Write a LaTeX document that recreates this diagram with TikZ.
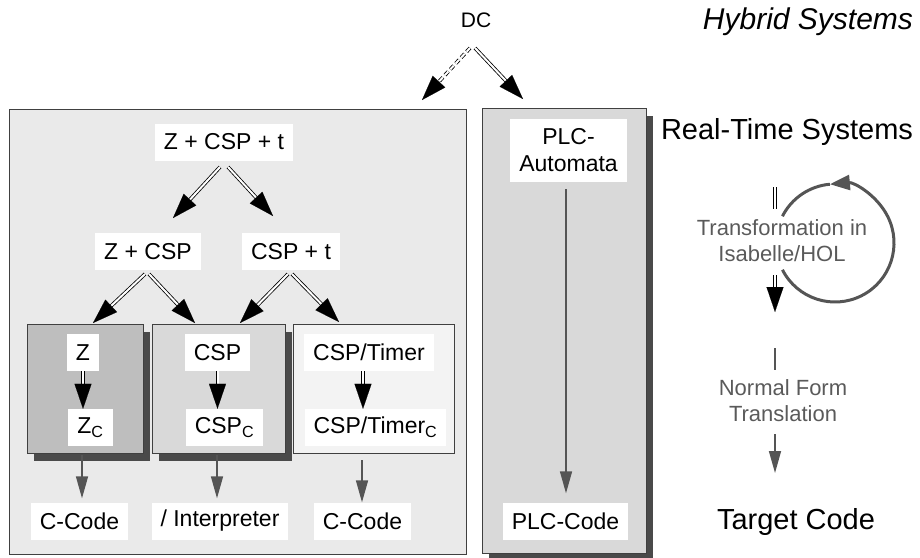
\documentclass[tikz,border=0pt]{standalone}
\usepackage{fontspec}
\setmainfont{Liberation Sans}
\usetikzlibrary{arrows.meta,calc,shadows}

\definecolor{panelgray}{HTML}{EAEAEA}
\definecolor{plcgray}{HTML}{D9D9D9}
\definecolor{zgray}{HTML}{BEBEBE}
\definecolor{cspgray}{HTML}{D9D9D9}
\definecolor{timergray}{HTML}{F3F3F3}
\definecolor{shadowgray}{HTML}{4A4A4A}
\definecolor{linegray}{HTML}{555555}
\definecolor{textgray}{HTML}{5A5A5A}

\tikzset{
  lbl/.style={fill=white, inner xsep=9pt, inner ysep=0pt, minimum height=37pt,
    font=\fontsize{23}{27}\selectfont},
  panel/.style={draw=black!75, line width=0.9pt, inner sep=0pt},
  shade/.style={drop shadow={shadow xshift=7pt, shadow yshift=-8pt, fill=shadowgray, opacity=1}},
  dbl/.style={draw=black, double=white, double distance=2pt, line width=0.8pt},
  grayarrow/.style={draw=linegray, line width=1.6pt, -{Triangle[length=22pt,width=12pt]}},
  loopline/.style={draw=linegray, line width=3pt},
  bigtext/.style={font=\fontsize{29}{34}\selectfont},
  note/.style={text=textgray, align=center, font=\fontsize{22}{26}\selectfont},
}

% double line ending in a solid head
\newcommand{\dblarrow}[3][]{%
  \draw[dbl,#1,shorten >=20pt] (#2) -- (#3);
  \draw[line width=0.1pt, -{Triangle[length=25pt,width=17pt]}] ($(#3)!25pt!(#2)$) -- (#3);
}

\begin{document}
\begin{tikzpicture}[x=1pt, y=-1pt]
  \useasboundingbox (0,0) rectangle (920,557);

  % Headings on the right
  \node[font=\fontsize{21}{24}\selectfont] (dc) at (476,20) {DC};
  \node[font=\fontsize{30}{34}\selectfont\itshape] (hybrid) at (808,22) {Hybrid Systems};
  \node[bigtext] (rts) at (787,132) {Real-Time Systems};
  \node[bigtext] (target) at (796,522) {Target Code};

  % The two panels
  \node[panel, fill=panelgray, minimum width=457pt, minimum height=445pt] (left) at (237.5,331.5) {};
  \node[panel, shade, fill=plcgray, minimum width=164pt, minimum height=445pt] (right) at (564,330.5) {};

  % Arrows from DC
  \coordinate (dcl) at (470,48);
  \coordinate (dcltip) at (422,100);
  \coordinate (dcr) at (475,48);
  \coordinate (dcrtip) at (523,99);
  \dblarrow[dashed, dash pattern=on 5pt off 3pt]{dcl}{dcltip}
  \dblarrow{dcr}{dcrtip}

  % Tree of specification languages
  \node[lbl] (zcspt) at (224,142) {Z + CSP + t};
  \node[lbl] (zcsp) at (148,251.5) {Z + CSP};
  \node[lbl] (cspt) at (291,251.5) {CSP + t};

  \coordinate (a1) at (220,167);
  \coordinate (a1tip) at (173,218);
  \coordinate (a2) at (228,167);
  \coordinate (a2tip) at (273,216);
  \coordinate (b1) at (145,274);
  \coordinate (b1tip) at (93,323);
  \coordinate (b2) at (149,274);
  \coordinate (b2tip) at (195,323);
  \coordinate (c1) at (288,274);
  \coordinate (c1tip) at (240,323);
  \coordinate (c2) at (292,274);
  \coordinate (c2tip) at (339,322);
  \dblarrow{a1}{a1tip}
  \dblarrow{a2}{a2tip}
  \dblarrow{b1}{b1tip}
  \dblarrow{b2}{b2tip}
  \dblarrow{c1}{c1tip}
  \dblarrow{c2}{c2tip}

  % Sub-boxes
  \node[panel, shade, fill=zgray, minimum width=116pt, minimum height=129pt] (zbox) at (85,388.5) {};
  \node[panel, shade, fill=cspgray, minimum width=133pt, minimum height=129pt] (cspbox) at (218.5,388.5) {};
  \node[panel, fill=timergray, minimum width=161pt, minimum height=129pt] (timerbox) at (373.5,388.5) {};

  \node[lbl] (zspec) at (83,352.5) {Z};
  \node[lbl] (zc) at (90.5,427.5) {Z\textsubscript{C}};
  \node[lbl] (csp) at (217.5,352.5) {CSP};
  \node[lbl] (cspc) at (224.5,427.5) {CSP\textsubscript{C}};
  \node[lbl] (timer) at (369,352.5) {CSP/Timer};
  \node[lbl] (timerc) at (375.5,427.5) {CSP/Timer\textsubscript{C}};

  \dblarrow{zspec.south}{zspec.south |- zc.north}
  \dblarrow{csp.south}{csp.south |- cspc.north}
  \dblarrow{363,0 |- timer.south}{363,0 |- timerc.north}

  % Code targets
  \node[lbl, minimum width=87pt] (ccode1) at (79.5,521) {C-Code};
  \node[lbl] (interp) at (220,521) {/ Interpreter};
  \node[lbl, minimum width=91pt] (ccode2) at (362.5,521) {C-Code};

  \draw[grayarrow, shorten >=4pt] (82,455) -- (82,0 |- ccode1.north);
  \draw[grayarrow, shorten >=4pt] (217,455) -- (217,0 |- interp.north);
  \draw[grayarrow, shorten <=7pt] (362,0 |- timerbox.south) -- (362,0 |- ccode2.north);

  % PLC branch
  \node[lbl, align=center, minimum width=115pt, minimum height=63pt] (plcaut) at (568.5,150.5) {PLC-\\Automata};
  \node[lbl, minimum width=123pt] (plccode) at (565.5,521) {PLC-Code};
  \draw[grayarrow, shorten <=7pt, shorten >=9pt] (566,0 |- plcaut.south) -- (566,0 |- plccode.north);

  % Transformation loop
  \node[note] (trans) at (782,240.5) {Transformation in\\Isabelle/HOL};
  \node[note] (nft) at (783,401) {Normal Form\\Translation};
  \coordinate (lc) at (835,243);
  \coordinate (t1) at (775,187);
  \coordinate (t2) at (775,209);
  \coordinate (t3) at (775,275);
  \coordinate (t4) at (775,312);
  \draw[dbl] (t1) -- (t2);
  \dblarrow{t3}{t4}
  \draw[loopline, -{Triangle[length=20pt,width=15pt]}] ([shift={(207:59pt)}]lc) arc[start angle=207, end angle=455, radius=59pt];
  \draw[loopline] ([shift={(95:59pt)}]lc) arc[start angle=95, end angle=153, radius=59pt];

  \coordinate (n1) at (775,348);
  \coordinate (n2) at (775,370);
  \coordinate (n3) at (775,434);
  \coordinate (n4) at (775,473);
  \draw[draw=linegray, line width=1.6pt] (n1) -- (n2);
  \draw[grayarrow] (n3) -- (n4);
\end{tikzpicture}
\end{document}
